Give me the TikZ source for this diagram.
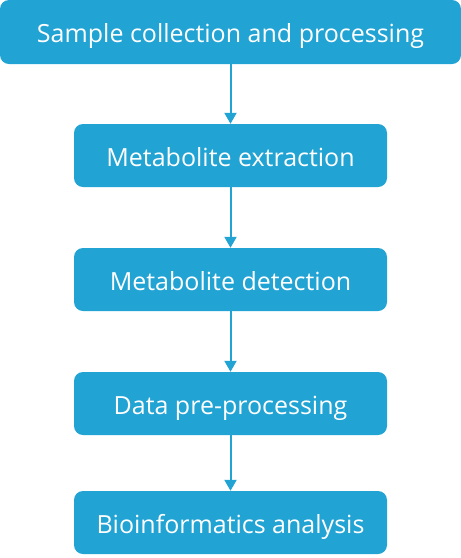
\documentclass[tikz,border=0pt]{standalone}
\usepackage{fontspec}
\setmainfont{Open Sans}
\usetikzlibrary{arrows.meta}
\definecolor{stepblue}{HTML}{21A3D4}
\begin{document}
\begin{tikzpicture}[
      x=1pt, y=-1pt,
      stepbox/.style={fill=stepblue, rounded corners=9pt, text=white,
        font=\fontsize{25}{28}\selectfont, minimum height=63pt, inner sep=0pt,
        text height=21pt, text depth=0pt},
      flow/.style={draw=stepblue, line width=2pt, -{Triangle[length=11pt, width=12pt]}}
    ]
    % frame
    \useasboundingbox (0, 0) rectangle (461, 558);

    % Steps
    \node [stepbox, minimum width=461pt, minimum height=64pt] (collect) at (230.5, 32) {Sample collection and processing};
    \node [stepbox, minimum width=313pt] (extract) at (230.5, 155.5) {Metabolite extraction};
    \node [stepbox, minimum width=313pt] (detect) at (230.5, 279.5) {Metabolite detection};
    \node [stepbox, minimum width=313pt] (preproc) at (230.5, 403.5) {Data pre-processing};
    \node [stepbox, minimum width=313pt] (bioinfo) at (230.5, 522.5) {Bioinformatics analysis};

    % Arrows
    \draw [flow] (collect) -- (extract);
    \draw [flow] (extract) -- (detect);
    \draw [flow] (detect) -- (preproc);
    \draw [flow] (preproc) -- (bioinfo);
  \end{tikzpicture}
\end{document}
